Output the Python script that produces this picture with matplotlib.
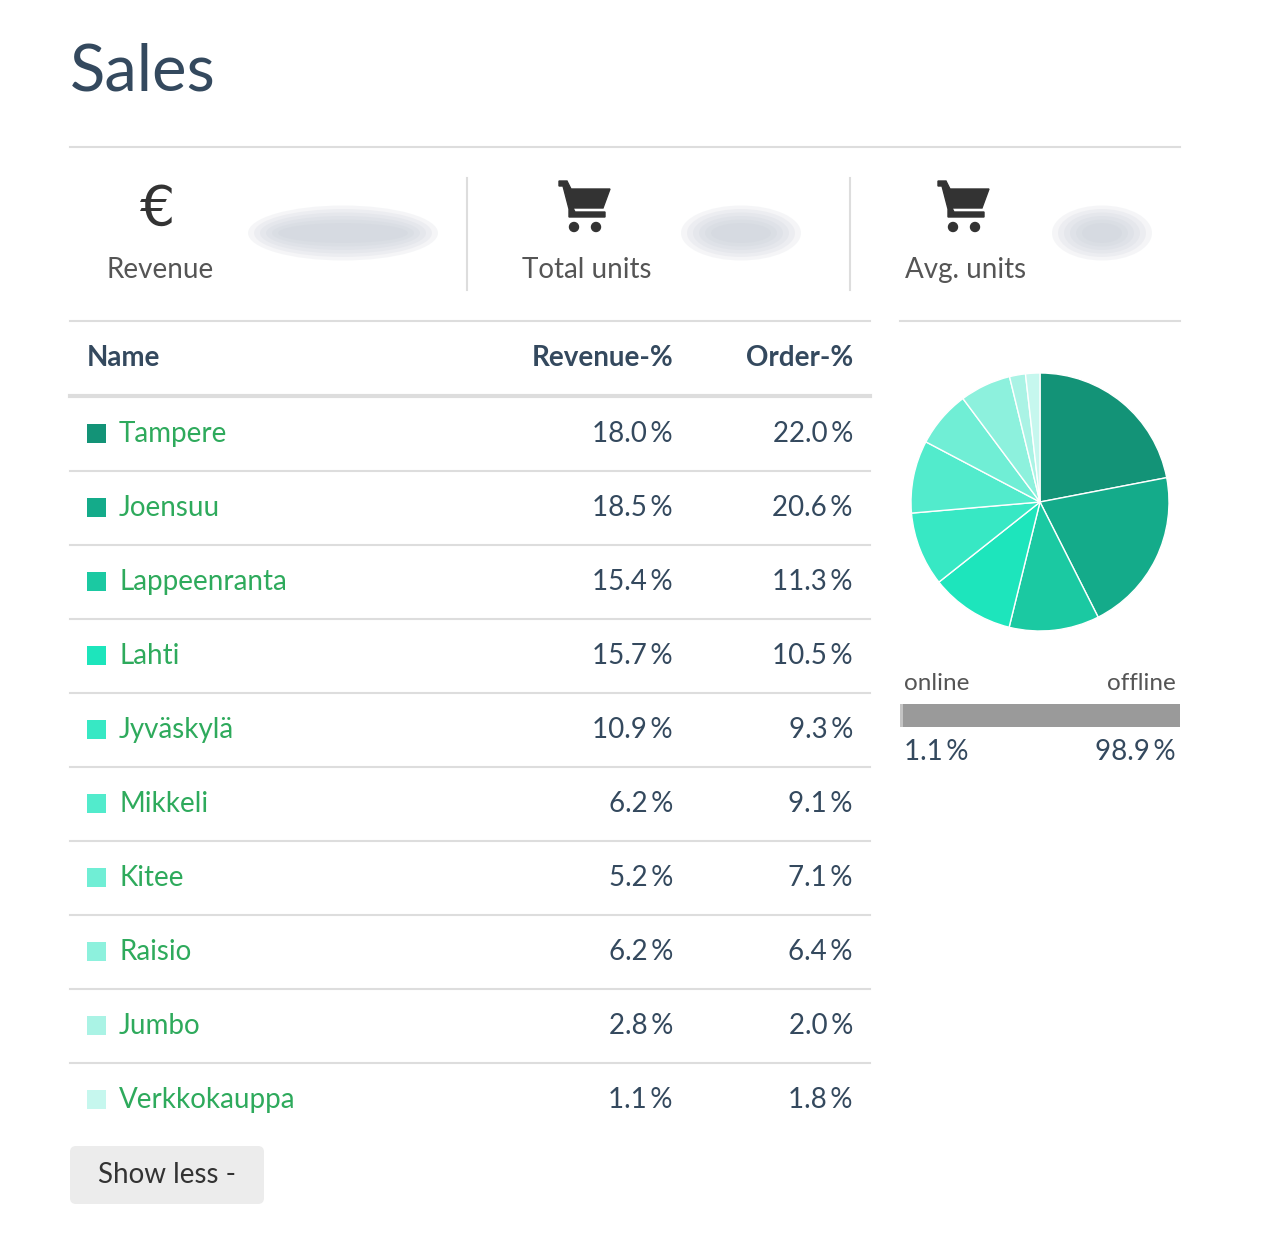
import matplotlib
matplotlib.use("Agg")
import matplotlib.pyplot as plt
from matplotlib.patches import Rectangle, FancyBboxPatch, Polygon, Circle, Ellipse

names = ["Tampere", "Joensuu", "Lappeenranta", "Lahti", "Jyväskylä", "Mikkeli", "Kitee", "Raisio", "Jumbo", "Verkkokauppa"]
revenue_pct = [18.0, 18.5, 15.4, 15.7, 10.9, 6.2, 5.2, 6.2, 2.8, 1.1]
order_pct = [22.0, 20.6, 11.3, 10.5, 9.3, 9.1, 7.1, 6.4, 2.0, 1.8]
colors = ["#139377", "#14ab8a", "#1bc9a2", "#1de5bc", "#37e8c4", "#52ebcc", "#70eed5", "#8df1dd", "#aaf3e5", "#c6f7ee"]
online_pct = 1.1
offline_pct = 98.9

F = "Lato"
FS = 20
W, H = 1278, 1252
fig = plt.figure(figsize=(W/100, H/100), dpi=100)
ax = fig.add_axes([0, 0, 1, 1])
ax.set_xlim(0, W); ax.set_ylim(H, 0); ax.axis("off")

dark = "#34495e"; green = "#2eaa5c"; line = "#dddddd"
ax.text(70, 72, "Sales", fontsize=47, color=dark, family=F, va="center")
ax.plot([70, 1180], [147, 147], color=line, lw=1.5)
ax.plot([467, 467], [178, 290], color=line, lw=1.5)
ax.plot([850, 850], [178, 290], color=line, lw=1.5)

def pct(v):
    return f"{v:.1f}\u2009%"

# KPI blocks
ax.text(158, 210, "€", fontsize=40, color="#333333", family="DejaVu Sans", ha="center", va="center")
def cart(cx, cy):
    body = Polygon([(cx-28, cy-25), (cx-20, cy-25), (cx-16, cy-17), (cx+23, cy-17), (cx+16, cy+2),
                    (cx-14, cy+2), (cx-12, cy+6), (cx+18, cy+6), (cx+18, cy+11), (cx-18, cy+11),
                    (cx-18, cy+3), (cx-24, cy-20), (cx-28, cy-20)], closed=True, color="#333333")
    ax.add_patch(body)
    ax.add_patch(Circle((cx-13, cy+21), 4.5, color="#333333"))
    ax.add_patch(Circle((cx+9, cy+21), 4.5, color="#333333"))
cart(587, 206); cart(966, 206)
for x, lab in [(160, "Revenue"), (587, "Total units"), (966, "Avg. units")]:
    ax.text(x, 270, lab, fontsize=FS, color="#555555", family=F, ha="center", va="center")
for cx, w in [(343, 190), (741, 120), (1102, 100)]:
    for k in range(6):
        ax.add_patch(Ellipse((cx, 233), w - k*12, 55 - k*7, color="#c8ccd6", alpha=0.18, lw=0))

# table
ax.plot([70, 870], [321, 321], color=line, lw=1.5)
ax.text(87, 358, "Name", fontsize=FS, color=dark, family=F, weight="bold", va="center")
ax.text(673, 358, "Revenue-%", fontsize=FS, color=dark, family=F, weight="bold", va="center", ha="right")
ax.text(853, 358, "Order-%", fontsize=FS, color=dark, family=F, weight="bold", va="center", ha="right")
ax.plot([70, 870], [396, 396], color=line, lw=3)
for i, (n, r, o, c) in enumerate(zip(names, revenue_pct, order_pct, colors)):
    y = 434 + 74*i
    ax.add_patch(Rectangle((87, y-10), 19, 19, color=c, lw=0))
    ax.text(119, y, n, fontsize=FS, color=green, family=F, va="center")
    ax.text(673, y, pct(r), fontsize=FS, color=dark, family=F, va="center", ha="right")
    ax.text(853, y, pct(o), fontsize=FS, color=dark, family=F, va="center", ha="right")
    if i < len(names) - 1:
        ax.plot([70, 870], [y+37, y+37], color=line, lw=1.5)

ax.add_patch(FancyBboxPatch((70, 1146), 194, 58, boxstyle="round,pad=0,rounding_size=6", color="#ececec", lw=0))
ax.text(167, 1175, "Show less -", fontsize=FS, color="#333333", family=F, ha="center", va="center")

# pie section
ax.plot([900, 1180], [321, 321], color=line, lw=1.5)
ax.text(904, 684, "online", fontsize=17.5, color="#555555", family=F, va="center")
ax.text(1176, 684, "offline", fontsize=17.5, color="#555555", family=F, va="center", ha="right")
total = 1180 - 900
ax.add_patch(Rectangle((900, 704), total*online_pct/100, 23, color="#c4c4c4", lw=0))
ax.add_patch(Rectangle((900 + total*online_pct/100, 704), total*offline_pct/100, 23, color="#9a9a9a", lw=0))
ax.text(904, 752, pct(online_pct), fontsize=FS, color=dark, family=F, va="center")
ax.text(1176, 752, pct(offline_pct), fontsize=FS, color=dark, family=F, va="center", ha="right")

r = 129
pax = fig.add_axes([(1040-r)/W, 1-(502+r)/H, 2*r/W, 2*r/H])
pax.pie(order_pct, colors=colors, startangle=90, counterclock=False,
        wedgeprops=dict(edgecolor="white", linewidth=1))
pax.set_xlim(-1, 1); pax.set_ylim(-1, 1)
pax.set_aspect("equal"); pax.axis("off")

fig.savefig("out.png", dpi=100)
